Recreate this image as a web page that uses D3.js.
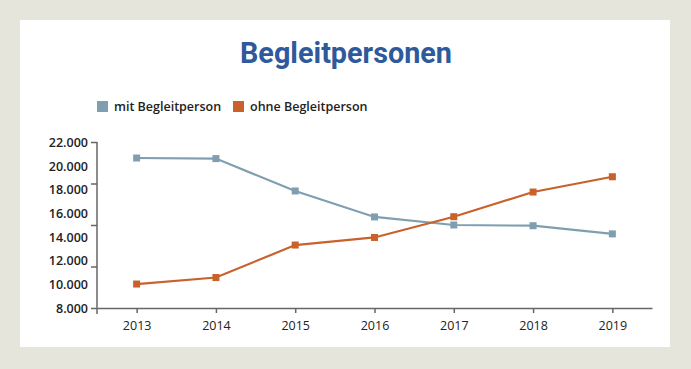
<!DOCTYPE html>
<html>
<head>
<meta charset="utf-8">
<script src="https://cdn.jsdelivr.net/npm/d3@7"></script>
<style>
  body { margin: 0; background: #e6e5db; }
  svg { display: block; }
  .lbl { font-family: "Open Sans", sans-serif; font-size: 12.5px; fill: #222; }
</style>
</head>
<body>
<svg id="chart" width="691" height="369"></svg>
<script>
// data
var years = ["2013", "2014", "2015", "2016", "2017", "2018", "2019"];
var mitBegleitperson = [20650, 20600, 17870, 15680, 15000, 14940, 14250];
var ohneBegleitperson = [10020, 10570, 13310, 13950, 15700, 17780, 19070];
var yLabelValues = [8000, 10000, 12000, 14000, 16000, 18000, 20000, 22000];
var yTickValues = [8000, 11500, 15000, 18500, 22000];

var series = [
	{ name: "mit Begleitperson", values: mitBegleitperson, color: "#7f9fb1" },
	{ name: "ohne Begleitperson", values: ohneBegleitperson, color: "#c8612c" }
];

var svg = d3.select("#chart");

// white panel
svg.append("rect")
	.attr("x", 20).attr("y", 20)
	.attr("width", 650).attr("height", 327)
	.attr("fill", "#fff");

svg.append("text")
	.attr("x", 346).attr("y", 63)
	.attr("text-anchor", "middle")
	.attr("textLength", 212)
	.attr("lengthAdjust", "spacingAndGlyphs")
	.style("font-family", "Roboto, sans-serif")
	.style("font-weight", "bold")
	.style("font-size", "30px")
	.style("fill", "#2e5a9c")
	.text("Begleitpersonen");

// legend
var legX = [97, 233];
var leg = svg.selectAll("g.leg")
	.data(series)
	.enter()
	.append("g")
		.attr("class", "leg")
		.attr("transform", (d, i) => "translate(" + legX[i] + ",101)");
leg.append("rect")
	.attr("width", 11).attr("height", 11)
	.attr("fill", d => d.color);
leg.append("text")
	.attr("class", "lbl")
	.attr("x", 17).attr("y", 10)
	.style("font-weight", "600")
	.text(d => d.name);

// scales
var x = d3.scalePoint()
	.domain(years)
	.range([97, 652])
	.padding(0.5);

var y = d3.scaleLinear()
	.domain([8000, 22000])
	.range([308, 142]);

var fmt = d => d3.format(",")(d).replace(/,/g, ".");

// y tick marks
var yTicks = svg.append("g")
	.attr("transform", "translate(97,0)")
	.call(d3.axisLeft(y).tickValues(yTickValues).tickSize(6).tickSizeOuter(0).tickFormat(""));
yTicks.select(".domain").remove();
yTicks.selectAll("line").attr("stroke", "#666").attr("stroke-width", 1.5);

// y labels
var yLabels = svg.append("g")
	.attr("transform", "translate(88,0)")
	.call(d3.axisLeft(y).tickValues(yLabelValues).tickSize(0).tickFormat(fmt));
yLabels.select(".domain").remove();
yLabels.selectAll("text")
	.attr("class", "lbl")
	.attr("x", 0)
	.attr("dy", "0.35em")
	.style("font-weight", "600");

// y axis line, extends below x axis
svg.append("line")
	.attr("x1", 97).attr("x2", 97)
	.attr("y1", y(22000)).attr("y2", y(8000) + 6)
	.attr("stroke", "#666").attr("stroke-width", 1.5);

// x axis
var xAxis = svg.append("g")
	.attr("transform", "translate(0," + y(8000) + ")")
	.call(d3.axisBottom(x).tickSize(5).tickSizeOuter(0).tickPadding(8));
xAxis.select(".domain").attr("stroke", "#666").attr("stroke-width", 1.5);
xAxis.selectAll("line").attr("stroke", "#666").attr("stroke-width", 1.5);
xAxis.selectAll("text")
	.attr("class", "lbl")
	.style("font-weight", "500");

// lines
var line = d3.line()
	.x((d, i) => x(years[i]))
	.y(d => y(d));

svg.selectAll("path.series")
	.data(series)
	.enter()
	.append("path")
		.attr("class", "series")
		.attr("d", d => line(d.values))
		.attr("fill", "none")
		.attr("stroke", d => d.color)
		.attr("stroke-width", 2.2);

series.forEach(function(s) {
	svg.selectAll(null)
		.data(s.values)
		.enter()
		.append("rect")
			.attr("x", (d, i) => x(years[i]) - 3.5)
			.attr("y", d => y(d) - 3.5)
			.attr("width", 7)
			.attr("height", 7)
			.attr("fill", s.color);
});
</script>
</body>
</html>
